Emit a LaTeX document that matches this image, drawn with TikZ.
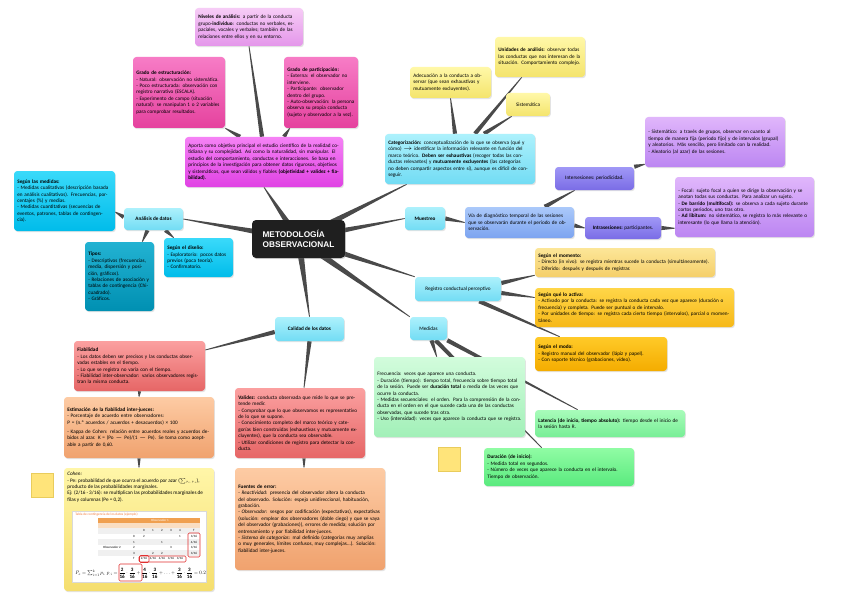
\documentclass[tikz,border=0pt]{standalone}
\usepackage{fontspec}
\setmainfont{Carlito}
\newfontfamily\titlefont{Liberation Sans}
\usetikzlibrary{calc,shadows}
\definecolor{conn}{HTML}{4A4A4A}
\definecolor{nivT}{HTML}{F6CCF6}\definecolor{nivB}{HTML}{E496EA}
\definecolor{pinkT}{HTML}{F77CC6}\definecolor{pinkB}{HTML}{E5429E}
\definecolor{magT}{HTML}{F582F5}\definecolor{magB}{HTML}{E042E4}
\definecolor{ylT}{HTML}{FFF8A8}\definecolor{ylB}{HTML}{F4E46C}
\definecolor{cyT}{HTML}{ADF1FC}\definecolor{cyB}{HTML}{72DCF4}
\definecolor{blT}{HTML}{ABC9FA}\definecolor{blB}{HTML}{7CA4F0}
\definecolor{viT}{HTML}{A098F6}\definecolor{viB}{HTML}{7A6CE6}
\definecolor{liT}{HTML}{E0B6FB}\definecolor{liB}{HTML}{BC86F2}
\definecolor{bcT}{HTML}{3ADAFA}\definecolor{bcB}{HTML}{00BCEA}
\definecolor{tlT}{HTML}{22B2D2}\definecolor{tlB}{HTML}{0090B2}
\definecolor{loT}{HTML}{FCE698}\definecolor{loB}{HTML}{F5CF6A}
\definecolor{amT}{HTML}{FFD648}\definecolor{amB}{HTML}{F6B818}
\definecolor{amcT}{HTML}{FFCA28}\definecolor{amcB}{HTML}{F4AC00}
\definecolor{gaT}{HTML}{D2FCDC}\definecolor{gaB}{HTML}{A2F0B8}
\definecolor{gbT}{HTML}{A8FCBA}\definecolor{gbB}{HTML}{78EE96}
\definecolor{gcT}{HTML}{90FCA4}\definecolor{gcB}{HTML}{5AEA7E}
\definecolor{rdT}{HTML}{FBA0A0}\definecolor{rdB}{HTML}{E66666}
\definecolor{orT}{HTML}{FDCBA4}\definecolor{orB}{HTML}{F0A26E}
\definecolor{ybT}{HTML}{FFF6A8}\definecolor{ybB}{HTML}{F5DE6E}
\definecolor{sqF}{HTML}{FFE47A}\definecolor{sqD}{HTML}{E9CC5C}
\definecolor{hdr}{HTML}{F0A050}
\definecolor{tred}{HTML}{E03030}
\newcommand\fs{\fontsize{3.9}{4.8}\selectfont}
\newcommand\taper[3]{%
  \fill[conn] ($(#1)!#3!90:(#2)$) -- ($(#2)!0.3pt!-90:(#1)$) -- ($(#2)!0.3pt!90:(#1)$) -- ($(#1)!#3!-90:(#2)$) -- cycle;}
\pgfdeclarelayer{back}
\pgfdeclarelayer{bg}
\pgfsetlayers{back,bg,main}
\begin{document}
\begin{tikzpicture}[x=0.75pt,y=-0.75pt,
  bx/.style={rounded corners=2.5pt, inner sep=2.5pt, align=left, font=\fs,
    drop shadow={opacity=0.22,shadow xshift=0.7pt,shadow yshift=-0.9pt}},
  lbl/.style={bx, align=center},
  sq/.style={draw=sqD, fill=sqF, minimum width=16.5pt, minimum height=18pt, inner sep=0pt}]
\useasboundingbox (0,0) rectangle (848,599);
\begin{pgfonlayer}{back}
\fill[white] (0,0) rectangle (848,599);
\end{pgfonlayer}

% ---------- centre ----------
\node[fill=black!88, rounded corners=3pt, minimum width=69.75pt, minimum height=28.5pt,
  text=white, font=\titlefont\bfseries\fontsize{6.2}{7.4}\selectfont, align=left,
  drop shadow={opacity=0.3,shadow xshift=0.7pt,shadow yshift=-0.9pt}] (c) at (298.5,239) {METODOLOGÍA\\OBSERVACIONAL};

% ---------- top (magenta branch) ----------
\node[bx, top color=nivT, bottom color=nivB, minimum width=81pt, minimum height=28.5pt, text width=76pt] (niv) at (249,27)
 {\textbf{Niveles de análisis:} a partir de la conducta grupo-\textbf{individuo}: conductas no verbales, espaciales, vocales y verbales; también de las relaciones entre ellos y en su entorno.};
\node[bx, top color=pinkT, bottom color=pinkB, minimum width=69pt, minimum height=53.25pt, text width=64pt] (pink1) at (179,92.5)
 {\textbf{Grado de estructuración:}\\- Natural: observación no sistemática.\\- Poco estructurada: observación con registro narrativo (ESCALA).\\- Experimento de campo (situación natural): se manipulan 1 o 2 variables para comprobar resultados.};
\node[bx, top color=pinkT, bottom color=pinkB, minimum width=55.5pt, minimum height=53.25pt, text width=50.5pt] (pink2) at (321,92.5)
 {\textbf{Grado de participación:}\\- Externa: el observador no interviene.\\- Participante: observador dentro del grupo.\\- Auto-observación: la persona observa su propia conducta (sujeto y observador a la vez).};
\node[bx, top color=magT, bottom color=magB, minimum width=118.5pt, minimum height=37.5pt, text width=113.5pt] (mag) at (264,162)
 {Aporta como objetivo principal el estudio científico de la realidad cotidiana y su complejidad. Así como la naturalidad, sin manipular. El estudio del comportamiento, conductas e interacciones. Se basa en principios de la investigación para obtener datos rigurosos, objetivos y sistemáticos, que sean válidos y fiables \textbf{(objetividad + validez + fiabilidad).}};

% ---------- categorisation branch ----------
\node[bx, top color=ylT, bottom color=ylB, minimum width=60.75pt, minimum height=23.25pt, text width=55.75pt] (yel1) at (450.5,82.5)
 {Adecuación a la conducta a observar (que sean exhaustivas y mutuamente excluyentes).};
\node[bx, top color=ylT, bottom color=ylB, minimum width=67.5pt, minimum height=30pt, text width=62.5pt] (yel2) at (540,57)
 {\textbf{Unidades de análisis:} observar todas las conductas que nos interesan de la situación. Comportamiento complejo.};
\node[lbl, top color=ylT, bottom color=ylB, minimum width=33pt, minimum height=17.25pt] (yel3) at (528,104.5) {Sistemática};
\node[bx, top color=cyT, bottom color=cyB, minimum width=112.5pt, minimum height=37.5pt, text width=107.5pt] (cat) at (460,159)
 {\textbf{Categorización:} conceptualización de lo que se observa (qué y cómo) $\rightarrow$ identificar la información relevante en función del marco teórico. \textbf{Deben ser exhaustivas} (recoger todas las conductas relevantes) y \textbf{mutuamente excluyentes} (las categorías no deben compartir aspectos entre sí), aunque es difícil de conseguir.};

% ---------- sampling branch ----------
\node[lbl, top color=cyT, bottom color=cyB, minimum width=30pt, minimum height=17.25pt] (muest) at (425,218.5) {\textbf{Muestreo}};
\node[bx, top color=blT, bottom color=blB, minimum width=81.75pt, minimum height=23.25pt, text width=76.75pt] (blue) at (519.5,222.5)
 {Vía de diagnóstico temporal de las sesiones que se observarán durante el periodo de observación.};
\node[lbl, top color=viT, bottom color=viB, minimum width=59.25pt, minimum height=17.25pt] (inter) at (594.5,178.5) {Intersesiones: periodicidad.};
\node[bx, top color=liT, bottom color=liB, minimum width=105pt, minimum height=37.5pt, text width=100pt] (ptop) at (715,142)
 {- Sistemático: a través de grupos, observar en cuanto al tiempo de manera fija (periodo fijo) y de intervalos (grupal) y aleatorios. Más sencillo, pero limitado con la realidad.\\- Aleatorio (al azar) de las sesiones.};
\node[lbl, top color=viT, bottom color=viB, minimum width=57pt, minimum height=16.5pt] (intra) at (623,228) {\textbf{Intrasesiones:} participantes.};
\node[bx, top color=liT, bottom color=liB, minimum width=104.25pt, minimum height=45pt, text width=99.25pt] (plow) at (744.5,207)
 {- Focal: sujeto focal a quien se dirige la observación y se anotan todas sus conductas. Para analizar un sujeto.\\- \textbf{De barrido (multifocal):} se observa a cada sujeto durante cortos periodos, uno tras otro.\\- \textbf{Ad libitum:} no sistemático, se registra lo más relevante o interesante (lo que llama la atención).};

% ---------- register branch ----------
\node[lbl, top color=cyT, bottom color=cyB, minimum width=64.5pt, minimum height=18pt] (reg) at (458,289) {Registro conductual perceptivo};
\node[bx, top color=loT, bottom color=loB, minimum width=135pt, minimum height=21.75pt, text width=130pt] (mom) at (625,262.5)
 {\textbf{Según el momento:}\\- Directo (in vivo): se registra mientras sucede la conducta (simultáneamente).\\- Diferido: después y después de registrar.};
\node[bx, top color=amT, bottom color=amB, minimum width=149.25pt, minimum height=29.25pt, text width=144.25pt] (act) at (634.5,307.5)
 {\textbf{Según qué lo activa:}\\- Activado por la conducta: se registra la conducta cada vez que aparece (duración o frecuencia) y completa. Puede ser puntual o de intervalo.\\- Por unidades de tiempo: se registra cada cierto tiempo (intervalos), parcial o momentáneo.};
\node[bx, top color=amcT, bottom color=amcB, minimum width=99pt, minimum height=25.5pt, text width=94pt] (modo) at (601,354)
 {\textbf{Según el modo:}\\- Registro manual del observador (lápiz y papel).\\- Con soporte técnico (grabaciones, vídeo).};

% ---------- measures branch ----------
\node[lbl, top color=cyT, bottom color=cyB, minimum width=27.75pt, minimum height=17.25pt] (med) at (428.5,328.5) {Medidas};
\node[bx, top color=gaT, bottom color=gaB, minimum width=113.25pt, minimum height=60pt, text width=108.25pt] (green) at (449.5,397)
 {Frecuencia: veces que aparece una conducta.\\- Duración (tiempo): tiempo total, frecuencia sobre tiempo total de la sesión. Puede ser \textbf{duración total} o media de las veces que ocurre la conducta.\\- Medidas secuenciales: el orden. Para la comprensión de la conducta en el orden en el que sucede cada una de las conductas observadas, que sucede tras otra.\\- Uso (intensidad): veces que aparece la conducta que se registra.};
\node[bx, top color=gbT, bottom color=gbB, minimum width=112.5pt, minimum height=20.25pt, text width=107.5pt] (lat) at (610,423.5)
 {\textbf{Latencia (de inicio, tiempo absoluto):} tiempo desde el inicio de la sesión hasta R.};
\node[bx, top color=gcT, bottom color=gcB, minimum width=112.5pt, minimum height=28.5pt, text width=107.5pt] (dur) at (559,467)
 {\textbf{Duración (de inicio):}\\- Medida total en segundos.\\- Número de veces que aparece la conducta en el intervalo.\\Tiempo de observación.};
\node[sq] (sq2) at (449.5,459.5) {};

% ---------- data analysis branch ----------
\node[bx, top color=bcT, bottom color=bcB, minimum width=75.75pt, minimum height=45pt, text width=70.75pt] (smed) at (64.5,201)
 {\textbf{Según las medidas:}\\- Medidas cualitativas (descripción basada en análisis cualitativos). Frecuencias, porcentajes (\%) y medias.\\- Medidas cuantitativas (secuencias de eventos, patrones, tablas de contingencia).};
\node[lbl, top color=cyT, bottom color=cyB, minimum width=44.25pt, minimum height=16.5pt] (anal) at (153.5,219) {\textbf{Análisis de datos}};
\node[bx, top color=tlT, bottom color=tlB, minimum width=51.75pt, minimum height=51.75pt, text width=46.75pt] (tipos) at (119.5,276.5)
 {\textbf{Tipos:}\\- Descriptivos (frecuencias, media, dispersión y posición, gráficos).\\- Relaciones de asociación y tablas de contingencia (Chi-cuadrado).\\- Gráficos.};
\node[bx, top color=bcT, bottom color=bcB, minimum width=51.75pt, minimum height=29.25pt, text width=46.75pt] (dis) at (198.5,257.5)
 {\textbf{Según el diseño:}\\- Exploratorio: pocos datos previos (poca teoría).\\- Confirmatorio.};

% ---------- data quality branch ----------
\node[lbl, top color=cyT, bottom color=cyB, minimum width=51.75pt, minimum height=18pt] (cal) at (309.5,329) {\textbf{Calidad de los datos}};
\node[bx, top color=rdT, bottom color=rdB, minimum width=98.25pt, minimum height=37.5pt, text width=93.25pt] (fiab) at (139.5,366)
 {\textbf{Fiabilidad}\\- Los datos deben ser precisos y las conductas observadas estables en el tiempo.\\- Lo que se registra no varía con el tiempo.\\- Fiabilidad inter-observador: varios observadores registran la misma conducta.};
\node[bx, top color=orT, bottom color=orB, minimum width=112.5pt, minimum height=45.75pt, text width=107.5pt] (est) at (139,427.5)
 {\textbf{Estimación de la fiabilidad inter-jueces:}\\- Porcentaje de acuerdo entre observadores:\\P = (n.º acuerdos / acuerdos + desacuerdos) × 100\\[2pt]- Kappa de Cohen: relación entre acuerdos reales y acuerdos debidos al azar. K = (Po $-$ Pe)/(1 $-$ Pe). Se toma como aceptable a partir de 0,60.};
\node[bx, top color=ybT, bottom color=ybB, minimum width=112.5pt, minimum height=92.25pt] (kappa) at (139,529.5)
 {\parbox[t][86pt][t]{107.5pt}{\raggedright\textit{Cohen:}\\- Pe: probabilidad de que ocurra el acuerdo por azar (\scalebox{0.4}{$\sum p_{i.}\,p_{.i}$}), producto de las probabilidades marginales.\\Ej: (2/16 · 3/16): se multiplican las probabilidades marginales de filas y columnas (Pe = 0,2).}};
\node[sq] (sq1) at (42,485) {};
\node[bx, top color=rdT, bottom color=rdB, minimum width=97.5pt, minimum height=52.5pt, text width=92.5pt] (val) at (300,423)
 {\textbf{Validez:} conducta observada que mide lo que se pretende medir.\\- Comprobar que lo que observamos es representativo de lo que se supone.\\- Conocimiento completo del marco teórico y categorías bien construidas (exhaustivas y mutuamente excluyentes), que la conducta sea observable.\\- Utilizar condiciones de registro para detectar la conducta.};
\node[bx, top color=orT, bottom color=orB, minimum width=112.5pt, minimum height=76.5pt, text width=107.5pt] (fuentes) at (310,519)
 {\textbf{Fuentes de error:}\\- \textit{Reactividad}: presencia del observador altera la conducta del observado. Solución: espejo unidireccional, habituación, grabación.\\- \textit{Observador}: sesgos por codificación (expectativas), expectativas (solución: emplear dos observadores (doble ciego) y que se vaya del observador (grabaciones)), errores de medida; solución por entrenamiento y por fiabilidad inter-jueces.\\- \textit{Sistema de categorías}: mal definido (categorías muy amplias o muy generales, límites confusos, muy complejas...). Solución: fiabilidad inter-jueces.};

% ---------- picture inside the Kappa box ----------
\fill[white] (72,511) rectangle (206,582);
\draw[gray!30, line width=0.2pt] (72,511) rectangle (206,582);
\node[font=\fontsize{2.6}{3}\selectfont, text=hdr!80!red, anchor=west, inner sep=0pt] (ttl) at (75,515) {Tabla de contingencia de los datos (ejemplo)};
\fill[hdr] (98,518) rectangle (200,523);
\node[font=\fontsize{2.4}{3}\selectfont, text=white, inner sep=0pt] (obs1) at (160,520.5) {Observador 1};
\fill[hdr!35] (98,523) rectangle (200,528);
\foreach \r in {0,2,4}{\fill[gray!12] (98,{528+\r*5.6}) rectangle (200,{533.6+\r*5.6});}
\foreach \x/\t in {144/0,153/1,162/2,171/3,180/4,194/T}{\node[font=\fontsize{2.4}{3}\selectfont, inner sep=0pt] (ch\t) at (\x,530.8) {\t};}
\foreach \y/\t in {536.4/0,542/1,547.6/2,553.2/3,558.8/T}{\node[font=\fontsize{2.4}{3}\selectfont, inner sep=0pt] (rh\t) at (134,\y) {\t};}
\node[font=\fontsize{2.4}{3}\selectfont, inner sep=0pt] (obs2) at (112,547) {Observador 2};
\foreach \x/\y/\t in {144/536.4/2,162/542/1,171/547.6/3,153/553.2/2,180/536.4/1,162/553.2/2}{\node[font=\fontsize{2.4}{3}\selectfont, inner sep=0pt] at (\x,\y) {\t};}
\foreach \y/\t in {536.4/3,542/4,547.6/3,553.2/3}{\node[font=\fontsize{2.4}{3}\selectfont, inner sep=0pt] at (194,\y) {\t/16};}
\foreach \x/\t in {144/2,153/4,162/4,171/3,180/3}{\node[font=\fontsize{2.4}{3}\selectfont, inner sep=0pt] at (\x,558.8) {\t/16};}
\draw[tred, line width=0.4pt, rounded corners=1pt] (188,533) rectangle (200,557);
\draw[tred, line width=0.4pt, rounded corners=1pt] (139,556) rectangle (186,562);
\draw[tred, line width=0.4pt, rounded corners=1pt] (139.5,555.5) rectangle (149,562.5);
\node[anchor=west, inner sep=0pt] (form) at (75,573)
 {\resizebox{98pt}{!}{$P_e=\sum_{i=1}^{k}p_{i.}\,p_{.i}=\displaystyle\frac{\mathbf 2}{\mathbf{16}}\cdot\frac{\mathbf 3}{\mathbf{16}}+\frac{\mathbf 4}{\mathbf{16}}\cdot\frac{\mathbf 3}{\mathbf{16}}+\dots+\frac{\mathbf 3}{\mathbf{16}}\cdot\frac{\mathbf 3}{\mathbf{16}}=0.2$}};
\draw[tred, line width=0.4pt, rounded corners=1pt] (119,564) rectangle (142,581);

% ---------- connectors ----------
\begin{pgfonlayer}{bg}
\taper{c.center}{mag.south}{2.8pt}
\taper{c.center}{anal.east}{2.8pt}
\coordinate (catE) at ($(cat.south west)+(22,0)$);
\taper{c.center}{catE}{2.8pt}
\taper{c.center}{muest.west}{2.8pt}
\taper{c.center}{reg.north west}{2.8pt}
\taper{c.center}{med.north west}{2.8pt}
\taper{c.center}{cal.north}{2.8pt}
% magenta
\coordinate (m0) at ($(mag.north)+(-2,0)$);
\taper{m0}{niv.south}{1.6pt}
\coordinate (m1) at ($(mag.north)+(-24,0)$);
\taper{m1}{pink1.south east}{1.6pt}
\coordinate (m2) at ($(mag.north)+(20,0)$);
\coordinate (p2) at ($(pink2.south west)+(6,0)$);
\taper{m2}{p2}{1.6pt}
% categorisation
\coordinate (k1) at ($(cat.north)+(-5,0)$);
\taper{k1}{yel1.south}{1.6pt}
\coordinate (k2) at ($(cat.north)+(15,0)$);
\coordinate (y2) at ($(yel2.south west)+(27,0)$);
\taper{k2}{y2}{1.6pt}
\coordinate (k3) at ($(cat.north)+(24,0)$);
\coordinate (y3) at ($(yel3.south west)+(6,0)$);
\taper{k3}{y3}{1.6pt}
% sampling
\taper{muest.east}{blue.west}{1.6pt}
\coordinate (b1) at ($(blue.north west)+(80,0)$);
\coordinate (i1) at ($(inter.south west)+(20,0)$);
\taper{b1}{i1}{1.6pt}
\coordinate (b2) at ($(blue.east)+(0,3)$);
\taper{b2}{intra.west}{1.6pt}
\coordinate (pt1) at ($(ptop.south west)+(0,-3)$);
\taper{inter.north east}{pt1}{1.6pt}
\coordinate (pl1) at ($(plow.south west)+(0,-9)$);
\taper{intra.east}{pl1}{1.6pt}
% register
\coordinate (r1) at ($(reg.east)+(0,-6)$);
\coordinate (mo1) at ($(mom.south west)+(0,-2)$);
\taper{r1}{mo1}{1.6pt}
\coordinate (r2) at ($(reg.east)+(0,4)$);
\coordinate (a1) at ($(act.west)+(0,-10)$);
\taper{r2}{a1}{1.6pt}
\coordinate (r3) at ($(reg.south east)+(-22,0)$);
\coordinate (mo2) at ($(modo.north west)+(25,0)$);
\taper{r3}{mo2}{1.6pt}
% measures
\coordinate (me1) at ($(med.south)+(3,0)$);
\coordinate (g1) at ($(green.north west)+(63,0)$);
\taper{me1}{g1}{1.6pt}
\coordinate (me2) at ($(med.south east)+(0,0)$);
\coordinate (l1) at ($(lat.north west)+(43,0)$);
\taper{me2}{l1}{1.6pt}
\coordinate (me3) at ($(med.south)+(7,0)$);
\coordinate (d1) at ($(dur.north west)+(58,0)$);
\taper{me3}{d1}{1.6pt}
% quality
\coordinate (cl1) at ($(cal.west)+(0,3)$);
\coordinate (f1) at ($(fiab.east)+(0,-16)$);
\taper{cl1}{f1}{1.6pt}
\coordinate (v1) at ($(val.north)+(4,0)$);
\taper{cal.south}{v1}{1.6pt}
\coordinate (v2) at ($(val.south)+(4,0)$);
\coordinate (fu1) at ($(fuentes.north)+(-6,0)$);
\taper{v2}{fu1}{1.2pt}
\taper{fiab.south}{est.north}{1.2pt}
\taper{est.south}{kappa.north}{1.2pt}
% analysis
\coordinate (an1) at ($(anal.west)+(0,-2)$);
\coordinate (sm1) at ($(smed.east)+(0,11)$);
\taper{an1}{sm1}{1.6pt}
\coordinate (an2) at ($(anal.south)+(-6,0)$);
\coordinate (t1) at ($(tipos.north east)+(-12,0)$);
\taper{an2}{t1}{1.6pt}
\coordinate (an3) at ($(anal.south)+(12,0)$);
\coordinate (ds1) at ($(dis.north west)+(10,0)$);
\taper{an3}{ds1}{1.6pt}
\end{pgfonlayer}
\end{tikzpicture}
\end{document}
